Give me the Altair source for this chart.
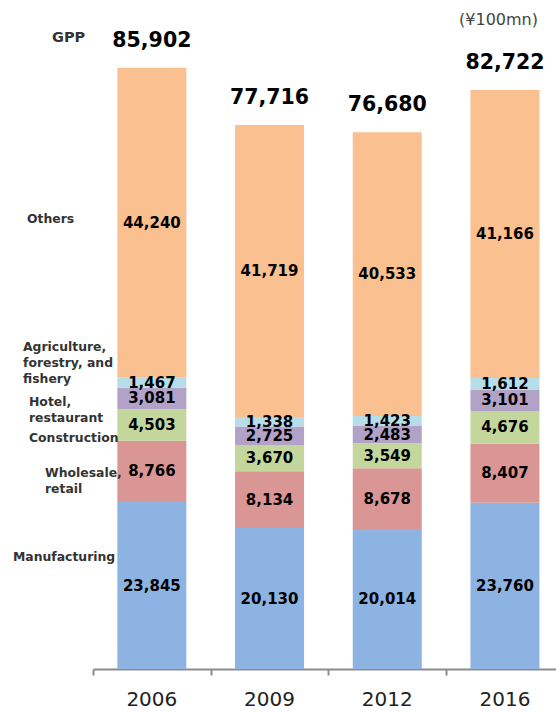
import altair as alt
import pandas as pd

years = ["2006", "2009", "2012", "2016"]
sectors = ["Manufacturing", "Wholesale, retail", "Construction",
           "Hotel, restaurant", "Agriculture, forestry, and fishery", "Others"]
manufacturing = [23845, 20130, 20014, 23760]
wholesale = [8766, 8134, 8678, 8407]
construction = [4503, 3670, 3549, 4676]
hotel = [3081, 2725, 2483, 3101]
agriculture = [1467, 1338, 1423, 1612]
others = [44240, 41719, 40533, 41166]
totals = [85902, 77716, 76680, 82722]
colors = ["#8DB3E2", "#D99694", "#C3D69B", "#B3A2C7", "#B7DEE8", "#FAC08F"]

series = [manufacturing, wholesale, construction, hotel, agriculture, others]
rows = []
for i, yr in enumerate(years):
    for k, vals in enumerate(series):
        rows.append({"year": yr, "pos": i + 0.5, "sector": sectors[k], "order": k,
                     "value": vals[i], "label": f"{vals[i]:,}"})
df = pd.DataFrame(rows)
tot = pd.DataFrame({"year": years, "pos": [i + 0.5 for i in range(len(years))],
                    "total": totals, "label": [f"{t:,}" for t in totals]})

W, H = 463, 665
LEFT, TOP = 93, 4
step = 117.7
FONT = "DejaVu Sans"

xscale = alt.Scale(domain=[0, W / step], nice=False, zero=False, padding=0)
yscale = alt.Scale(domain=[0, 95000], nice=False, zero=True, padding=0)
xaxis = alt.Axis(values=[0, 1, 2, 3], labels=False, title=None, grid=False,
                 ticks=True, tickSize=6, tickWidth=2, tickColor="#8C8C8C",
                 domainColor="#8C8C8C", domainWidth=2)

stacked = alt.Chart(df).transform_stack(
    stack="value", groupby=["year"], sort=[alt.SortField("order")], as_=["y0", "y1"]
).transform_calculate(mid="(datum.y0 + datum.y1) / 2")

bars = stacked.mark_bar(size=69).encode(
    x=alt.X("pos:Q", scale=xscale, axis=xaxis),
    y=alt.Y("y0:Q", scale=yscale, axis=None),
    y2="y1:Q",
    color=alt.Color("sector:N", scale=alt.Scale(domain=sectors, range=colors), legend=None),
)

seg_text = stacked.mark_text(font=FONT, fontWeight="bold", fontSize=15,
                             color="black", baseline="middle").encode(
    x=alt.X("pos:Q", scale=xscale, axis=xaxis),
    y=alt.Y("mid:Q", scale=yscale, axis=None),
    text="label:N",
)

tot_text = alt.Chart(tot).mark_text(font=FONT, fontWeight="bold", fontSize=20.5,
                                    color="black", baseline="middle", dy=-27).encode(
    x=alt.X("pos:Q", scale=xscale, axis=xaxis),
    y=alt.Y("total:Q", scale=yscale, axis=None),
    text="label:N",
)

year_text = alt.Chart(tot).mark_text(font=FONT, fontSize=20, color="#222222",
                                     baseline="middle").encode(
    x=alt.X("pos:Q", scale=xscale, axis=xaxis),
    y=alt.value(700 - TOP),
    text="year:N",
)


def ann(text, xa, ya, size=12.4, weight="bold", align="left", color="#333333"):
    return alt.Chart(pd.DataFrame({"t": [text]})).mark_text(
        font=FONT, fontSize=size, fontWeight=weight, align=align,
        baseline="middle", color=color
    ).encode(x=alt.value(xa - LEFT), y=alt.value(ya - TOP), text="t:N")


anns = [
    ann("GPP", 52, 38, size=14.5),
    ann("(¥100mn)", 538, 20, size=16, weight="normal", align="right", color="#444444"),
    ann("Others", 27, 219),
    ann("Agriculture,", 23, 347),
    ann("forestry, and", 23, 363),
    ann("fishery", 23, 379),
    ann("Hotel,", 29, 402),
    ann("restaurant", 29, 418),
    ann("Construction", 29, 438),
    ann("Wholesale,", 45, 473),
    ann("retail", 45, 489),
    ann("Manufacturing", 13, 557),
]

chart = alt.layer(bars, seg_text, tot_text, year_text, *anns).properties(
    width=W, height=H,
    padding={"left": LEFT, "top": TOP, "right": 0, "bottom": 712 - TOP - H},
    autosize=alt.AutoSizeParams(type="none"),
).configure_view(stroke=None)

chart.save("out.html", embed_options={"renderer": "svg", "actions": False})
